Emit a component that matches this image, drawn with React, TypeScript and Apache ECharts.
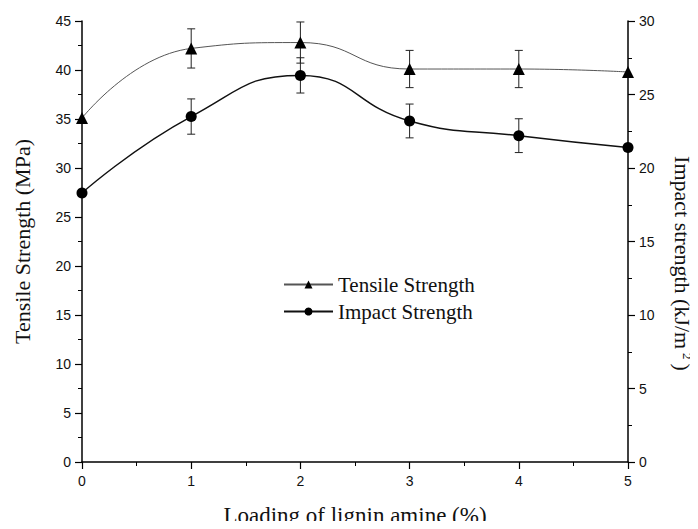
import React, { useEffect, useRef } from "react";
import * as echarts from "echarts";

const loading = [0, 1, 2, 3, 4, 5];
const tensile = [35.1, 42.2, 42.8, 40.1, 40.1, 39.8];
const tensileErr = [0, 2.0, 2.1, 1.9, 1.9, 0];
const impact = [18.3, 23.5, 26.3, 23.2, 22.2, 21.4];
const impactErr = [0, 1.2, 1.2, 1.15, 1.15, 0];

const serif = "'Liberation Serif', 'Times New Roman', serif";
const sans = "'Liberation Sans', Arial, sans-serif";

function errData(vals: number[], errs: number[]) {
  return loading.map((x, i) => [x, vals[i], vals[i] - errs[i], vals[i] + errs[i], errs[i]]);
}

function errRender(params: any, api: any) {
  if (api.value(4) <= 0) return null;
  const x = api.value(0);
  const lo = api.coord([x, api.value(2)]);
  const hi = api.coord([x, api.value(3)]);
  const w = 4;
  const style = { stroke: "#222", lineWidth: 1 };
  return {
    type: "group",
    children: [
      { type: "line", shape: { x1: lo[0], y1: lo[1], x2: hi[0], y2: hi[1] }, style },
      { type: "line", shape: { x1: lo[0] - w, y1: lo[1], x2: lo[0] + w, y2: lo[1] }, style },
      { type: "line", shape: { x1: hi[0] - w, y1: hi[1], x2: hi[0] + w, y2: hi[1] }, style },
    ],
  };
}

export default function App() {
  const ref = useRef<HTMLDivElement>(null);
  useEffect(() => {
    if (!ref.current) return;
    const chart = echarts.init(ref.current, undefined, { renderer: "svg" });
    const axisLine = { show: true, lineStyle: { color: "#000", width: 1.5 } };
    const axisTick = { show: true, inside: false, length: 7, lineStyle: { color: "#000", width: 1.2 } };
    const minorTick = { show: true, splitNumber: 2, length: 4, lineStyle: { color: "#000", width: 1 } };
    const yLabel = { color: "#111", fontFamily: sans, fontSize: 14, margin: 11 };
    const xLabel = { color: "#111", fontFamily: sans, fontSize: 14, margin: 12 };
    const nameStyle = { fontFamily: serif, fontSize: 22, color: "#111" };
    chart.setOption({
      animation: false,
      backgroundColor: "#fff",
      grid: { left: 82, right: 70, top: 21, bottom: 67, containLabel: false, outerBoundsMode: "none" },
      legend: {
        orient: "vertical",
        left: 278,
        top: 269,
        itemWidth: 49,
        itemHeight: 10,
        itemGap: 6,
        textStyle: { fontFamily: serif, fontSize: 21, color: "#111" },
        data: ["Tensile Strength", "Impact Strength"],
      },
      xAxis: {
        type: "value",
        min: 0,
        max: 5,
        interval: 1,
        name: "Loading of lignin amine (%)",
        nameLocation: "middle",
        nameGap: 42,
        nameTextStyle: { ...nameStyle, fontSize: 23 },
        axisLine,
        axisTick,
        minorTick,
        axisLabel: xLabel,
        splitLine: { show: false },
      },
      yAxis: [
        {
          type: "value",
          min: 0,
          max: 45,
          interval: 5,
          position: "left",
          name: "Tensile Strength (MPa)",
          nameLocation: "middle",
          nameGap: 49,
          nameTextStyle: nameStyle,
          axisLine,
          axisTick,
          minorTick,
          axisLabel: yLabel,
          splitLine: { show: false },
        },
        {
          type: "value",
          min: 0,
          max: 30,
          interval: 5,
          position: "right",
          name: "{n|Impact strength (kJ/m}{s|2}{n|)}",
          nameLocation: "middle",
          nameRotate: -90,
          nameGap: 42,
          nameTextStyle: {
            ...nameStyle,
            padding: [0, 0, 0, 44],
            rich: {
              n: { fontFamily: serif, fontSize: 22, color: "#111", lineHeight: 24 },
              s: {
                fontFamily: serif,
                fontSize: 13,
                color: "#111",
                lineHeight: 13,
                verticalAlign: "top",
                padding: [0, 4, 0, 4],
              },
            },
          },
          axisLine,
          axisTick,
          minorTick,
          axisLabel: yLabel,
          splitLine: { show: false },
        },
      ],
      series: [
        {
          name: "Tensile Strength",
          type: "line",
          yAxisIndex: 0,
          smooth: 0.5,
          data: loading.map((x, i) => [x, tensile[i]]),
          symbol: "triangle",
          symbolSize: 12,
          itemStyle: { color: "#000" },
          lineStyle: { color: "#555", width: 1 },
          clip: false,
          z: 3,
        },
        {
          name: "Impact Strength",
          type: "line",
          yAxisIndex: 1,
          smooth: 0.5,
          data: loading.map((x, i) => [x, impact[i]]),
          symbol: "circle",
          symbolSize: 11,
          itemStyle: { color: "#000" },
          lineStyle: { color: "#111", width: 1.5 },
          clip: false,
          z: 3,
        },
        {
          type: "custom",
          yAxisIndex: 0,
          renderItem: errRender,
          data: errData(tensile, tensileErr),
          encode: { x: 0, y: [1, 2, 3] },
          z: 2,
          silent: true,
        },
        {
          type: "custom",
          yAxisIndex: 1,
          renderItem: errRender,
          data: errData(impact, impactErr),
          encode: { x: 0, y: [1, 2, 3] },
          z: 2,
          silent: true,
        },
      ],
    });
    return () => chart.dispose();
  }, []);
  return <div ref={ref} style={{ width: 698, height: 529, margin: -8 }} />;
}
